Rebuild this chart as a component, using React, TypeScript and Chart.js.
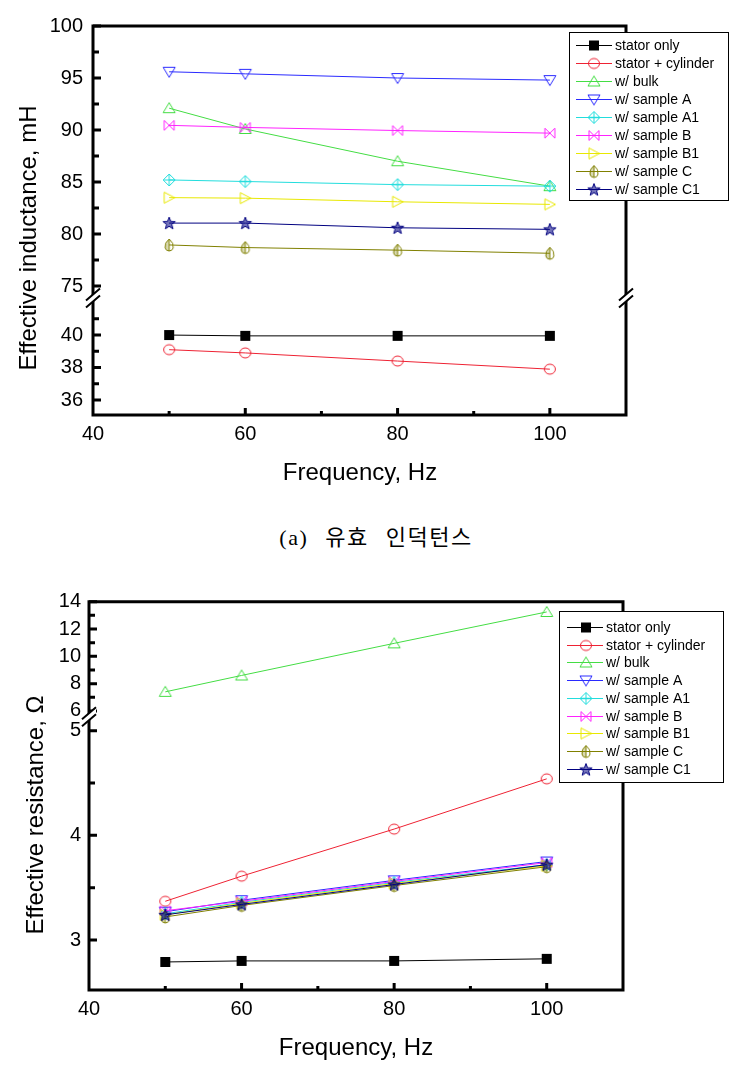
import React, { useEffect, useRef } from 'react';
import { Chart, registerables } from 'chart.js';

Chart.register(...registerables);

// ---------------- data ----------------
const freq = [50, 60, 80, 100];
const seriesNames = [
  'stator only',
  'stator + cylinder',
  'w/ bulk',
  'w/ sample A',
  'w/ sample A1',
  'w/ sample B',
  'w/ sample B1',
  'w/ sample C',
  'w/ sample C1',
];

// (a) effective inductance, mH
const indStatorOnly = [40.0, 39.95, 39.95, 39.95];
const indCylinder = [39.1, 38.9, 38.4, 37.9];
const indBulk = [92.1, 90.1, 87.0, 84.6];
const indSampleA = [95.6, 95.4, 95.0, 94.8];
const indSampleA1 = [85.2, 85.05, 84.75, 84.6];
const indSampleB = [90.45, 90.25, 89.95, 89.7];
const indSampleB1 = [83.5, 83.45, 83.1, 82.85];
const indSampleC = [78.95, 78.7, 78.45, 78.15];
const indSampleC1 = [81.05, 81.05, 80.6, 80.45];

// (b) effective resistance, ohm
const resStatorOnly = [2.79, 2.8, 2.8, 2.82];
const resCylinder = [3.37, 3.61, 4.06, 4.54];
const resBulk = [7.4, 8.6, 10.95, 13.25];
const resSampleA = [3.27, 3.38, 3.57, 3.75];
const resSampleA1 = [3.25, 3.36, 3.55, 3.72];
const resSampleB = [3.28, 3.37, 3.56, 3.74];
const resSampleB1 = [3.24, 3.35, 3.54, 3.71];
const resSampleC = [3.22, 3.33, 3.52, 3.7];
const resSampleC1 = [3.24, 3.34, 3.53, 3.72];

// tick labels
const xTicks = [40, 60, 80, 100];
const xMinor = [50, 70, 90];
const indHighTicks = [75, 80, 85, 90, 95, 100];
const indHighMinor = [77.5, 82.5, 87.5, 92.5, 97.5];
const indLowTicks = [36, 38, 40];
const indLowMinor = [37, 39, 41];
const resHighTicks = [6, 8, 10, 12, 14];
const resHighMinor = [7, 9, 11, 13];
const resLowTicks = [3, 4, 5];
const resLowMinor = [3.5, 4.5];

// ---------------- styles ----------------
const FONT = '"Liberation Sans", Arial, sans-serif';
const seriesColors = ['#000000', '#ee2233', '#44dd44', '#2a2aff', '#22dddd', '#ff22ff', '#e8e800', '#808000', '#000080'];
const seriesMarkers = ['square', 'circle', 'triUp', 'triDown', 'diamondPlus', 'bowtie', 'triRight', 'leafHalf', 'star'];

function makeMarker(kind: string, color: string) {
  const c = document.createElement('canvas');
  c.width = 16;
  c.height = 16;
  const g = c.getContext('2d')!;
  g.strokeStyle = color;
  g.fillStyle = color;
  g.lineWidth = 1;
  g.beginPath();
  switch (kind) {
    case 'square':
      g.fillRect(3, 3, 10, 10);
      break;
    case 'circle':
      g.ellipse(8, 8, 5.5, 5, 0, 0, Math.PI * 2);
      g.stroke();
      break;
    case 'triUp':
      g.moveTo(8, 2.5); g.lineTo(14, 12.5); g.lineTo(2, 12.5); g.closePath(); g.stroke();
      break;
    case 'triDown':
      g.moveTo(2, 3.5); g.lineTo(14, 3.5); g.lineTo(8, 13.5); g.closePath(); g.stroke();
      break;
    case 'diamondPlus':
      g.moveTo(8, 2); g.lineTo(14, 8); g.lineTo(8, 14); g.lineTo(2, 8); g.closePath();
      g.moveTo(2, 8); g.lineTo(14, 8);
      g.moveTo(8, 2); g.lineTo(8, 14);
      g.stroke();
      break;
    case 'bowtie':
      g.moveTo(3, 3); g.lineTo(13, 13); g.lineTo(13, 3); g.lineTo(3, 13); g.closePath();
      g.stroke();
      break;
    case 'triRight':
      g.moveTo(3, 2.5); g.lineTo(13.5, 8); g.lineTo(3, 13.5); g.closePath(); g.stroke();
      break;
    case 'leafHalf': {
      g.moveTo(8, 2);
      g.quadraticCurveTo(13, 6, 12, 11);
      g.quadraticCurveTo(11, 14, 8, 14);
      g.quadraticCurveTo(5, 14, 4, 11);
      g.quadraticCurveTo(3, 6, 8, 2);
      g.closePath();
      g.stroke();
      g.beginPath();
      g.moveTo(8, 2);
      g.quadraticCurveTo(3, 6, 4, 11);
      g.quadraticCurveTo(5, 14, 8, 14);
      g.closePath();
      g.globalAlpha = 0.3; g.fill(); g.globalAlpha = 1;
      g.beginPath(); g.moveTo(8, 2.5); g.lineTo(8, 14); g.stroke();
      break;
    }
    case 'star': {
      for (let k = 0; k < 10; k++) {
        const r = k % 2 === 0 ? 6.5 : 2.7;
        const a = -Math.PI / 2 + (k * Math.PI) / 5;
        const px = 8 + r * Math.cos(a);
        const py = 8.5 + r * Math.sin(a);
        if (k === 0) g.moveTo(px, py); else g.lineTo(px, py);
      }
      g.closePath();
      g.globalAlpha = 0.55; g.fill(); g.globalAlpha = 1;
      g.stroke();
      break;
    }
  }
  return c;
}

type Spec = {
  W: number; H: number;
  area: { left: number; top: number; right: number; bottom: number };
  yBreak: number;
  high: { min: number; max: number; ticks: number[]; minor: number[] };
  low: { min: number; max: number; ticks: number[]; minor: number[] };
  series: number[][];
  axisOf: string[];
  yPad: number;
  xTitle: { text: string; x: number; y: number };
  yTitle: { text: string; x: number; y: number };
  legend: { x: number; y: number; w: number; h: number; row0: number; dy: number; lineX1: number; lineX2: number; markX: number; textX: number; font: number };
  rightBreak: boolean;
};

const topSpec: Spec = {
  W: 752, H: 500,
  area: { left: 93, top: 26, right: 626, bottom: 415 },
  yBreak: 298,
  high: { min: 73.85, max: 100, ticks: indHighTicks, minor: indHighMinor },
  low: { min: 35.08, max: 42.28, ticks: indLowTicks, minor: indLowMinor },
  series: [indStatorOnly, indCylinder, indBulk, indSampleA, indSampleA1, indSampleB, indSampleB1, indSampleC, indSampleC1],
  axisOf: ['low', 'low', 'high', 'high', 'high', 'high', 'high', 'high', 'high'],
  yPad: 10,
  xTitle: { text: 'Frequency, Hz', x: 360, y: 480 },
  yTitle: { text: 'Effective inductance, mH', x: 36, y: 238 },
  legend: { x: 569, y: 32, w: 159, h: 168, row0: 45, dy: 18, lineX1: 576, lineX2: 612, markX: 594, textX: 615, font: 14 },
  rightBreak: true,
};

const bottomSpec: Spec = {
  W: 752, H: 502,
  area: { left: 89, top: 31.7, right: 623, bottom: 420 },
  yBreak: 146.7,
  high: { min: 5.58, max: 14, ticks: resHighTicks, minor: resHighMinor },
  low: { min: 2.522, max: 5.134, ticks: resLowTicks, minor: resLowMinor },
  series: [resStatorOnly, resCylinder, resBulk, resSampleA, resSampleA1, resSampleB, resSampleB1, resSampleC, resSampleC1],
  axisOf: ['low', 'low', 'high', 'low', 'low', 'low', 'low', 'low', 'low'],
  yPad: 8,
  xTitle: { text: 'Frequency, Hz', x: 356, y: 485 },
  yTitle: { text: 'Effective resistance, \u03A9', x: 43, y: 245 },
  legend: { x: 559, y: 41, w: 164, h: 171, row0: 57, dy: 17.7, lineX1: 567, lineX2: 603, markX: 586, textX: 606, font: 14 },
  rightBreak: false,
};

function buildChart(canvas: HTMLCanvasElement, spec: Spec) {
  const { W, H, area, yBreak } = spec;
  const markers = seriesMarkers.map((m, i) => makeMarker(m, seriesColors[i]));
  const datasets = spec.series.map((vals, i) => ({
    label: seriesNames[i],
    data: freq.map((f, j) => ({ x: f, y: vals[j] })),
    yAxisID: spec.axisOf[i] === 'high' ? 'yHigh' : 'yLow',
    borderColor: seriesColors[i],
    backgroundColor: seriesColors[i],
    borderWidth: 1,
    pointStyle: markers[i],
    pointRadius: 6,
    pointHoverRadius: 6,
    order: -i,
    clip: false as any,
  }));

  const tickFont = { family: FONT, size: 20 };
  const yScale = (cfg: Spec['high'], weight: number, stackWeight: number) => ({
    type: 'linear' as const,
    position: 'left' as const,
    stack: 'y',
    stackWeight,
    weight,
    min: cfg.min,
    max: cfg.max,
    grid: { display: false, drawTicks: false },
    border: { display: false },
    ticks: { font: tickFont, color: '#000', padding: spec.yPad, autoSkip: false },
    afterBuildTicks: (s: any) => { s.ticks = cfg.ticks.map((v) => ({ value: v })); },
    afterFit: (s: any) => { s.width = area.left; },
  });

  const framePlugin = {
    id: 'frameAndLegend',
    afterDraw(chart: any) {
      const ctx = chart.ctx as CanvasRenderingContext2D;
      const { left, right, top, bottom } = chart.chartArea;
      const yH = chart.scales.yHigh;
      const yL = chart.scales.yLow;
      const xs = chart.scales.x;
      const yb = yH.bottom;
      ctx.save();
      // frame
      ctx.strokeStyle = '#000';
      ctx.lineWidth = 3;
      ctx.lineCap = 'square';
      ctx.beginPath();
      ctx.moveTo(left, top); ctx.lineTo(right, top); ctx.lineTo(right, bottom); ctx.lineTo(left, bottom); ctx.closePath();
      ctx.stroke();
      // y ticks (inside)
      ctx.lineCap = 'butt';
      ctx.beginPath();
      const yt = (scale: any, vals: number[], len: number) => vals.forEach((v) => {
        const y = scale.getPixelForValue(v);
        ctx.moveTo(left, y); ctx.lineTo(left + len, y);
      });
      yt(yH, spec.high.ticks, 8); yt(yL, spec.low.ticks, 8);
      yt(yH, spec.high.minor, 6); yt(yL, spec.low.minor, 6);
      const xt = (vals: number[], len: number) => vals.forEach((v) => {
        const x = xs.getPixelForValue(v);
        ctx.moveTo(x, bottom); ctx.lineTo(x, bottom - len);
      });
      xt(xTicks.slice(1), 7); xt(xMinor, 4);
      ctx.stroke();
      // axis breaks
      const brk = (x: number, y: number) => {
        const g = 3.5, dx = 7, dy = 6;
        ctx.fillStyle = '#fff';
        ctx.beginPath();
        ctx.moveTo(x - dx, y - g + dy); ctx.lineTo(x + dx, y - g - dy); ctx.lineTo(x + dx, y + g - dy); ctx.lineTo(x - dx, y + g + dy); ctx.closePath();
        ctx.fill();
        ctx.strokeStyle = '#000';
        ctx.lineWidth = 2;
        ctx.beginPath();
        ctx.moveTo(x - dx, y - g + dy); ctx.lineTo(x + dx, y - g - dy);
        ctx.moveTo(x - dx, y + g + dy); ctx.lineTo(x + dx, y + g - dy);
        ctx.stroke();
      };
      brk(left, yb);
      if (spec.rightBreak) brk(right, yb);
      // titles
      ctx.fillStyle = '#000';
      ctx.font = `24px ${FONT}`;
      ctx.textAlign = 'center';
      ctx.textBaseline = 'alphabetic';
      ctx.fillText(spec.xTitle.text, spec.xTitle.x, spec.xTitle.y);
      ctx.save();
      ctx.translate(spec.yTitle.x, spec.yTitle.y);
      ctx.rotate(-Math.PI / 2);
      ctx.fillText(spec.yTitle.text, 0, 0);
      ctx.restore();
      // legend
      const L = spec.legend;
      ctx.fillStyle = '#fff';
      ctx.fillRect(L.x, L.y, L.w, L.h);
      ctx.strokeStyle = '#000';
      ctx.lineWidth = 1;
      ctx.strokeRect(L.x + 0.5, L.y + 0.5, L.w, L.h);
      ctx.font = `${L.font}px ${FONT}`;
      ctx.textAlign = 'left';
      ctx.textBaseline = 'middle';
      chart.data.datasets.forEach((ds: any, i: number) => {
        const y = Math.round(L.row0 + i * L.dy);
        ctx.strokeStyle = ds.borderColor;
        ctx.beginPath();
        ctx.moveTo(L.lineX1, y + 0.5); ctx.lineTo(L.lineX2, y + 0.5);
        ctx.stroke();
        const m = ds.pointStyle as HTMLCanvasElement;
        ctx.drawImage(m, L.markX - m.width / 2, y - m.height / 2 + 0.5);
        ctx.fillStyle = '#000';
        ctx.fillText(ds.label, L.textX, y + 1);
      });
      ctx.restore();
    },
  };

  return new Chart(canvas, {
    type: 'line',
    data: { datasets: datasets as any },
    options: {
      animation: false,
      responsive: false,
      devicePixelRatio: 1,
      layout: { padding: { left: 0, top: area.top, right: W - area.right, bottom: 0 } },
      plugins: { legend: { display: false }, tooltip: { enabled: false }, title: { display: false } },
      scales: {
        x: {
          type: 'linear',
          position: 'bottom',
          min: 40,
          max: 110,
          grid: { display: false, drawTicks: false },
          border: { display: false },
          ticks: { font: tickFont, color: '#000', padding: 7, maxRotation: 0, autoSkip: false },
          afterBuildTicks: (s: any) => { s.ticks = xTicks.map((v) => ({ value: v })); },
          afterFit: (s: any) => { s.height = H - area.bottom; },
        },
        yHigh: yScale(spec.high, 2, yBreak - area.top),
        yLow: yScale(spec.low, 1, area.bottom - yBreak),
      } as any,
    },
    plugins: [framePlugin],
  });
}

function BrokenAxisChart({ spec }: { spec: Spec }) {
  const ref = useRef<HTMLCanvasElement | null>(null);
  useEffect(() => {
    const chart = buildChart(ref.current!, spec);
    return () => chart.destroy();
  }, [spec]);
  return <canvas ref={ref} width={spec.W} height={spec.H} style={{ display: 'block', width: spec.W, height: spec.H }} />;
}

export default function App() {
  return (
    <div style={{ position: 'absolute', left: 0, top: 0, width: 752, height: 1072, background: '#fff' }}>
      <div style={{ position: 'absolute', left: 0, top: 0 }}>
        <BrokenAxisChart spec={topSpec} />
      </div>
      <div
        style={{
          position: 'absolute',
          left: 0,
          top: 525,
          width: 752,
          textAlign: 'center',
          fontFamily: '"Liberation Serif", "Noto Sans CJK KR", serif',
          fontSize: 22,
          lineHeight: '26px',
          wordSpacing: 10,
          letterSpacing: 1.5,
          color: '#000',
          whiteSpace: 'pre',
        }}
      >
        (a) 유효 인덕턴스
      </div>
      <div style={{ position: 'absolute', left: 0, top: 570 }}>
        <BrokenAxisChart spec={bottomSpec} />
      </div>
    </div>
  );
}
